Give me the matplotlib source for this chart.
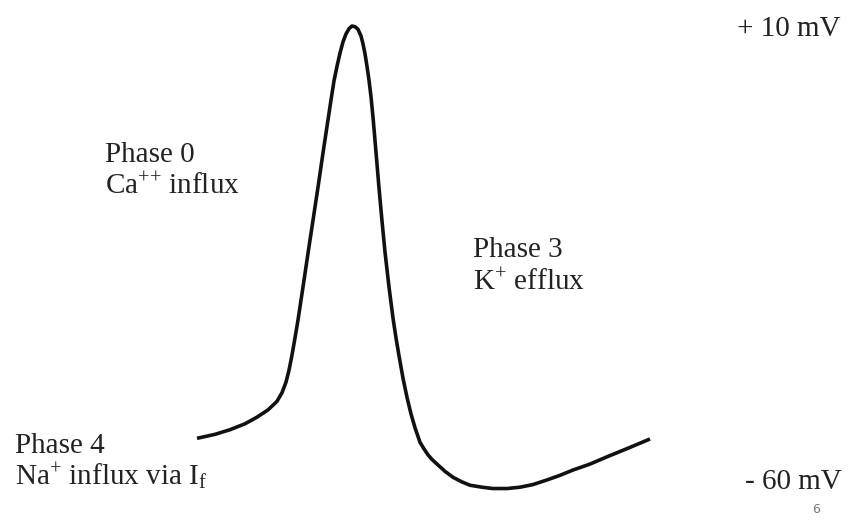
import matplotlib
matplotlib.use('Agg')
import matplotlib.pyplot as plt

# pacemaker (SA node) action potential
time_ms = [0, 18, 33, 48, 60, 71, 80, 85, 89, 92,
           95, 98, 101, 106, 111, 116, 121, 126, 131, 134,
           137, 140, 143, 146, 149, 152, 155, 158, 161, 164,
           166, 168, 170, 172, 174, 176, 178, 180, 182, 185,
           188, 192, 196, 199, 202, 206, 210, 214, 218, 223,
           227, 231, 235, 240, 248, 256, 265, 273, 285, 296,
           310, 323, 336, 350, 363, 376, 393, 410, 431, 453]
voltage_mv = [-52.4, -51.8, -51.1, -50.2, -49.2, -48.1, -46.8, -45.5, -43.9, -42.1,
              -39.8, -37.2, -34.5, -29.5, -24.4, -19.4, -14.4, -9.2, -4.2, -1.2,
              1.7, 3.9, 5.9, 7.6, 8.8, 9.6, 10.0, 9.9, 9.5, 8.5,
              7.3, 5.8, 3.9, 1.8, -0.7, -3.8, -7.3, -10.9, -14.5, -19.5,
              -24.2, -29.5, -34.2, -37.2, -39.9, -43.3, -46.2, -48.7, -50.8, -53.0,
              -54.0, -54.9, -55.6, -56.3, -57.4, -58.3, -59.0, -59.5, -59.8, -60.0,
              -60.0, -59.8, -59.4, -58.7, -58.0, -57.2, -56.3, -55.2, -53.9, -52.5]

phase_labels = [
    ("Phase 0", r"Ca$^{{+}{+}}$ influx"),
    ("Phase 3", r"K$^{\mathrm{+}}$ efflux"),
    ("Phase 4", r"Na$^{\mathrm{+}}$ influx via I$_{\mathrm{f}}$"),
]
voltage_labels = ["+ 10 mV", "- 60 mV"]
page_number = "6"

plt.rcParams['font.family'] = ['Liberation Serif', 'DejaVu Serif']
plt.rcParams['mathtext.fontset'] = 'custom'
plt.rcParams['mathtext.rm'] = 'Liberation Serif'
plt.rcParams['mathtext.it'] = 'Liberation Serif:italic'

W, H = 850, 525
fig = plt.figure(figsize=(8.5, 5.25), dpi=100)
ax = fig.add_axes([0, 0, 1, 1])
ax.plot(time_ms, voltage_mv, color='#111111', lw=2.6,
        solid_capstyle='butt', solid_joinstyle='round')
ax.set_xlim(-197, 653)
ax.set_ylim(-65.52, 13.94)
ax.axis('off')


def put(x, y, s, **kw):
    # x, y in pixels from the top-left corner
    fig.text(x / W, 1 - y / H, s, va='baseline', ha='left', **kw)


txt_color = '#222222'
spots = [(105, 162, 194), (473, 257, 290), (15, 453, 485)]
for (x, y1, y2), (l1, l2) in zip(spots, phase_labels):
    put(x, y1, l1, fontsize=21, color=txt_color)
    put(x, y2, l2, fontsize=21, color=txt_color)

put(737, 36, voltage_labels[0], fontsize=21, color=txt_color)
put(745, 489, voltage_labels[1], fontsize=21, color=txt_color)
put(812, 513, page_number, fontsize=9, color='#777777', family='DejaVu Sans')

fig.savefig('out.png', dpi=100, facecolor='white')
